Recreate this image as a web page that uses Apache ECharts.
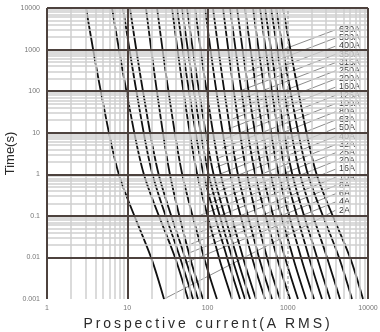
<!DOCTYPE html>
<html><head><meta charset="utf-8">
<script src="https://cdn.jsdelivr.net/npm/echarts@6/dist/echarts.min.js"></script>
<style>
html,body{margin:0;padding:0;background:#fff;}
#wrap{position:relative;width:380px;height:332px;}
#c{position:absolute;left:0;top:0;width:380px;height:332px;}
#xt{position:absolute;left:-2px;top:315px;width:420px;text-align:center;font-family:"Liberation Sans",Arial,sans-serif;font-size:14px;letter-spacing:2.9px;color:#2a2a2a;white-space:nowrap;}
</style></head>
<body><div id="wrap"><div id="c"></div><div id="xt">Prospective current(A RMS)</div></div>
<script>
// ---- data ----
const ratings = ['2A','4A','6A','8A','10A','16A','20A','25A','32A','40A','50A','63A','80A','100A','125A','160A','200A','250A','315A','350A','400A','500A','630A'];
const curveTimes = [10000, 100, 1, 0.01, 0.001];
// prospective current (A) at each of curveTimes, one row per rating
const curveCurrents = [
  [3.06, 4.68, 7.85, 19.8, 28.7],
  [6.46, 9.76, 16.1, 39.4, 57.1],
  [8.85, 13.0, 20.6, 45.4, 66.0],
  [10.8, 15.7, 24.6, 52.4, 76.1],
  [17.1, 23.4, 34.0, 60.5, 87.9],
  [23.5, 32.6, 48.4, 90.4, 131],
  [36.1, 50.1, 74.4, 139, 202],
  [41.7, 58.8, 89.2, 175, 254],
  [48.1, 67.9, 103, 202, 293],
  [55.5, 78.4, 119, 233, 339],
  [69.9, 97.4, 146, 277, 402],
  [93.1, 129, 192, 359, 521],
  [117, 162, 239, 438, 637],
  [156, 213, 310, 551, 801],
  [191, 265, 393, 735, 1067],
  [233, 325, 486, 924, 1342],
  [293, 409, 611, 1163, 1688],
  [369, 515, 769, 1463, 2124],
  [451, 633, 951, 1840, 2672],
  [521, 743, 1139, 2315, 3361],
  [619, 901, 1421, 3084, 4478],
  [714, 1079, 1783, 4351, 6318],
  [873, 1350, 2288, 5966, 8663]
];
// label leader lines
const leaderStartI = [28.7, 52.4, 57.3, 62.7, 68.5, 74.8, 81.8, 89.4, 97.7, 107, 117, 128, 140, 153, 167, 182, 199, 218, 238, 260, 284, 311, 340];
const leaderStartT = [0.001, 0.00734, 0.0125, 0.0211, 0.036, 0.0612, 0.104, 0.177, 0.3, 0.511, 0.865, 1.47, 2.51, 4.24, 7.22, 12.3, 20.9, 35.4, 60.2, 103, 174, 295, 502];
const leaderEndI = 3990;
const leaderEndT = [0.138, 0.218, 0.343, 0.54, 0.851, 1.34, 2.11, 3.32, 5.23, 8.24, 13.0, 20.4, 32.2, 50.7, 79.9, 126, 198, 312, 491, 774, 1218, 1919, 3022];
const xTickLabels = ['1','10','100','1000','10000'];
const yTickLabels = ['0.001','0.01','0.1','1','10','100','1000','10000'];
const xMajor = [1, 10, 100, 10000];
const xMajorLight = [1000];
const yMajor = [0.001, 0.01, 0.1, 1, 10, 100, 1000, 10000];

// ---- chart ----
const DARK = '#4d423e', LIGHT = '#cfcfcf';
const minorX = [], minorY = [];
for (let e = 0; e < 4; e++) for (let m = 2; m <= 9; m++) minorX.push(m * Math.pow(10, e));
for (let e = -3; e < 4; e++) for (let m = 2; m <= 9; m++) minorY.push(+(m * Math.pow(10, e)).toPrecision(3));

const FONT = '"Liberation Sans", Arial, sans-serif';
const series = [];
series.push({
  type: 'line', data: [], z: 1, silent: true,
  markLine: { silent: true, symbol: 'none', animation: false, label: { show: false },
    lineStyle: { color: LIGHT, width: 1.5, type: 'solid' },
    data: minorX.map(v => ({ xAxis: v })).concat(minorY.map(v => ({ yAxis: v }))) }
});
series.push({
  type: 'line', data: [], z: 1, silent: true,
  markLine: { silent: true, symbol: 'none', animation: false, label: { show: false },
    lineStyle: { color: '#b0b0b0', width: 1.5, type: [3, 2] },
    data: xMajorLight.map(v => ({ xAxis: v })) }
});
series.push({
  type: 'line', data: [], z: 2, silent: true,
  markLine: { silent: true, symbol: 'none', animation: false, label: { show: false },
    lineStyle: { color: DARK, width: 2, type: 'solid' },
    data: xMajor.map(v => ({ xAxis: v })).concat(yMajor.map(v => ({ yAxis: v }))) }
});
ratings.forEach((r, i) => {
  series.push({
    name: r, type: 'line', z: 3, silent: true, symbol: 'none',
    data: [[leaderStartI[i], leaderStartT[i]], [leaderEndI, leaderEndT[i]]],
    lineStyle: { color: '#8c8c8c', width: 1 },
    endLabel: { show: true, formatter: r, color: '#3a3a3a', fontSize: 9, lineHeight: 7, fontFamily: FONT, distance: 2,
      backgroundColor: '#fff', padding: [0, 1, 0, 1] }
  });
});
ratings.forEach((r, i) => {
  series.push({
    name: 'c' + r, type: 'line', z: 4, silent: true, symbol: 'none', smooth: 0.3,
    data: curveCurrents[i].map((c, j) => [c, curveTimes[j]]),
    lineStyle: { color: '#111', width: 1.8 }
  });
});

const chart = echarts.init(document.getElementById('c'));
chart.setOption({
  animation: false,
  backgroundColor: '#fff',
  grid: { left: 47, right: 12, top: 8, bottom: 33, outerBoundsMode: 'none', containLabel: false },
  xAxis: {
    type: 'log', logBase: 10, min: 1, max: 10000, interval: 1,
    axisLine: { show: false }, axisTick: { show: false }, splitLine: { show: false },
    axisLabel: { fontSize: 7, color: '#777', margin: 6, fontFamily: FONT,
      formatter: v => xTickLabels[Math.round(Math.log10(v))] }
  },
  yAxis: {
    type: 'log', logBase: 10, min: 0.001, max: 10000, interval: 1,
    name: 'Time(s)', nameLocation: 'middle', nameGap: 30, nameRotate: 90, nameMoveOverlap: false,
    nameTextStyle: { fontSize: 13, color: '#2a2a2a', fontFamily: FONT },
    axisLine: { show: false }, axisTick: { show: false }, splitLine: { show: false },
    axisLabel: { fontSize: 7, color: '#777', margin: 7, fontFamily: FONT,
      formatter: v => yTickLabels[Math.round(Math.log10(v)) + 3] }
  },
  series: series
});
</script></body></html>
